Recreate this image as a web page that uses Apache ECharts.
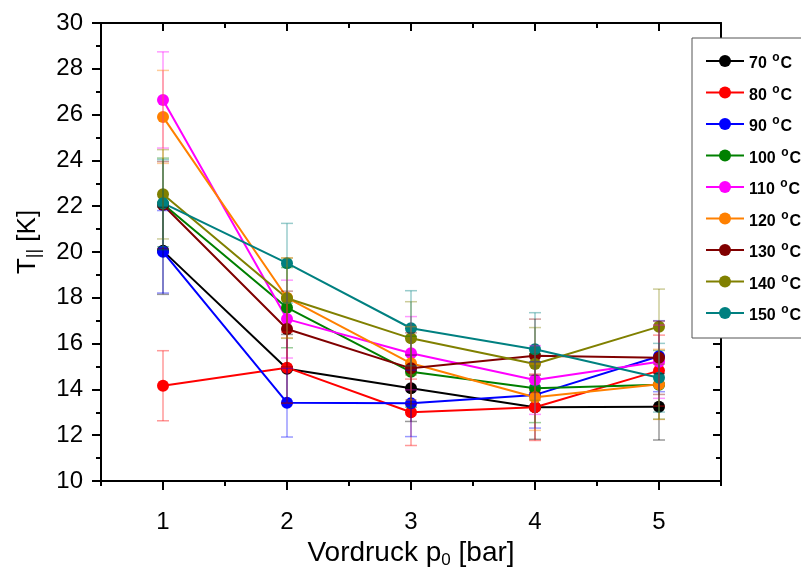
<!DOCTYPE html>
<html>
<head>
<meta charset="utf-8">
<script src="https://cdn.jsdelivr.net/npm/echarts@6/dist/echarts.min.js"></script>
<style>
html,body{margin:0;padding:0;background:#fff;}
#chart{width:801px;height:575px;}
</style>
</head>
<body>
<div id="chart"></div>
<script>
// ---- data ----
var pressures = [1, 2, 3, 4, 5];
var seriesNames = ['70 °C', '80 °C', '90 °C', '100 °C', '110 °C', '120 °C', '130 °C', '140 °C', '150 °C'];
var t70  = [20.05, 14.90, 14.05, 13.22, 13.24];
var t80  = [14.16, 14.95, 13.00, 13.22, 14.82];
var t90  = [20.01, 13.42, 13.39, 13.76, 15.45];
var t100 = [22.10, 17.57, 14.77, 14.05, 14.20];
var t110 = [26.64, 17.07, 15.58, 14.41, 15.21];
var t120 = [25.90, 18.00, 15.14, 13.66, 14.22];
var t130 = [22.05, 16.64, 14.92, 15.47, 15.38];
var t140 = [22.52, 17.98, 16.23, 15.11, 16.74];
var t150 = [22.13, 19.51, 16.67, 15.75, 14.51];
var e70  = [1.90, 1.50, 1.45, 1.40, 1.45];
var e80  = [1.53, 1.55, 1.45, 1.45, 1.55];
var e90  = [1.80, 1.50, 1.45, 1.45, 1.55];
var e100 = [2.00, 1.75, 1.55, 1.50, 1.50];
var e110 = [2.10, 1.70, 1.60, 1.50, 1.60];
var e120 = [2.03, 1.75, 1.60, 1.45, 1.53];
var e130 = [1.90, 1.65, 1.55, 1.60, 1.60];
var e140 = [1.95, 1.75, 1.60, 1.59, 1.64];
var e150 = [1.90, 1.74, 1.64, 1.60, 1.50];
var yTicks = [10, 12, 14, 16, 18, 20, 22, 24, 26, 28, 30];
var xTicks = [1, 2, 3, 4, 5];
var xMinorTicks = [0.5, 1.5, 2.5, 3.5, 4.5, 5.5];

var values = [t70, t80, t90, t100, t110, t120, t130, t140, t150];
var errors = [e70, e80, e90, e100, e110, e120, e130, e140, e150];
var colors = ['#000000', '#ff0000', '#0000ff', '#008000', '#ff00ff', '#ff8000', '#800000', '#808000', '#008080'];

var FONT = 'Liberation Sans, Arial, sans-serif';

var series = [];
values.forEach(function (vals, i) {
  var col = colors[i];
  series.push({
    name: seriesNames[i],
    type: 'line',
    data: pressures.map(function (p, j) { return [p, vals[j]]; }),
    symbol: 'circle',
    symbolSize: 12,
    itemStyle: { color: col },
    lineStyle: { color: col, width: 2 },
    z: 3,
    animation: false
  });
});
values.forEach(function (vals, i) {
  var col = colors[i];
  var errs = errors[i];
  series.push({
    name: seriesNames[i],
    type: 'custom',
    data: pressures.map(function (p, j) { return [p, vals[j] - errs[j], vals[j] + errs[j]]; }),
    renderItem: function (params, api) {
      var x = api.value(0);
      var lo = api.coord([x, api.value(1)]);
      var hi = api.coord([x, api.value(2)]);
      var hw = 6;
      var style = { stroke: col, lineWidth: 1.5, opacity: 0.4 };
      return {
        type: 'group',
        children: [
          { type: 'line', shape: { x1: lo[0], y1: lo[1], x2: hi[0], y2: hi[1] }, style: style },
          { type: 'line', shape: { x1: lo[0] - hw, y1: lo[1], x2: lo[0] + hw, y2: lo[1] }, style: style },
          { type: 'line', shape: { x1: hi[0] - hw, y1: hi[1], x2: hi[0] + hw, y2: hi[1] }, style: style }
        ]
      };
    },
    z: 4,
    silent: true,
    animation: false
  });
});

var axisLineStyle = { show: true, lineStyle: { color: '#000', width: 2 } };

var option = {
  animation: false,
  backgroundColor: '#fff',
  grid: { left: 101, right: 80, top: 23, bottom: 94, containLabel: false },
  xAxis: [
    {
      type: 'value', min: 0.5, max: 5.5, position: 'bottom',
      axisLine: axisLineStyle,
      axisTick: { show: true, customValues: xTicks, length: 9, lineStyle: { color: '#000', width: 2 } },
      axisLabel: { show: true, customValues: xTicks, color: '#000', fontFamily: FONT, fontSize: 24, margin: 29 },
      splitLine: { show: false },
      name: 'Vordruck p{s|0} [bar]',
      nameLocation: 'middle', nameGap: 55,
      nameTextStyle: {
        color: '#000', fontFamily: FONT, fontSize: 28,
        rich: { s: { fontFamily: FONT, fontSize: 17, color: '#000', verticalAlign: 'bottom', padding: [15, 0, 0, 0] } }
      }
    },
    {
      type: 'value', min: 0.5, max: 5.5, position: 'bottom',
      axisLine: { show: false },
      axisTick: { show: true, customValues: xMinorTicks, length: 5, lineStyle: { color: '#000', width: 2 } },
      axisLabel: { show: false },
      splitLine: { show: false }
    },
    {
      type: 'value', min: 0.5, max: 5.5, position: 'top',
      axisLine: axisLineStyle,
      axisTick: { show: true, inside: true, customValues: xTicks, length: 8, lineStyle: { color: '#000', width: 2 } },
      axisLabel: { show: false },
      splitLine: { show: false }
    },
    {
      type: 'value', min: 0.5, max: 5.5, position: 'top',
      axisLine: { show: false },
      axisTick: { show: true, inside: true, customValues: xMinorTicks, length: 5, lineStyle: { color: '#000', width: 2 } },
      axisLabel: { show: false },
      splitLine: { show: false }
    }
  ],
  yAxis: [
    {
      type: 'value', min: 10, max: 30, interval: 2, position: 'left',
      axisLine: axisLineStyle,
      axisTick: { show: true, length: 9, lineStyle: { color: '#000', width: 2 } },
      minorTick: { show: true, splitNumber: 2, length: 5, lineStyle: { color: '#000', width: 2 } },
      axisLabel: { color: '#000', fontFamily: FONT, fontSize: 24, margin: 18 },
      splitLine: { show: false },
      name: 'T{s|||} [K]',
      nameLocation: 'middle', nameGap: 58, nameRotate: 90,
      nameTextStyle: {
        color: '#000', fontFamily: FONT, fontSize: 26, padding: [0, 0, 0, 20],
        rich: { s: { fontFamily: FONT, fontSize: 18, color: '#000', verticalAlign: 'bottom', padding: [12, 0, 0, 0] } }
      }
    },
    {
      type: 'value', min: 10, max: 30, interval: 2, position: 'right',
      axisLine: axisLineStyle,
      axisTick: { show: true, inside: true, length: 8, lineStyle: { color: '#000', width: 2 } },
      minorTick: { show: true, splitNumber: 2, length: 5, lineStyle: { color: '#000', width: 2 } },
      axisLabel: { show: false },
      splitLine: { show: false }
    }
  ],
  legend: {
    orient: 'vertical',
    left: 692, top: 38,
    padding: [14, 12, 14, 13],
    itemWidth: 38, itemHeight: 15, itemGap: 11.5,
    backgroundColor: '#fff',
    borderColor: '#555', borderWidth: 1,
    data: seriesNames,
    formatter: function (name) {
      return '{n|' + name.replace(' °C', ' ') + '}{s|o}{n|C}';
    },
    textStyle: {
      color: '#000', fontFamily: FONT, fontWeight: 'bold', fontSize: 16,
      rich: {
        n: { fontFamily: FONT, fontWeight: 'bold', fontSize: 16, color: '#000', verticalAlign: 'bottom', height: 20 },
        s: { fontFamily: FONT, fontWeight: 'bold', fontSize: 12, color: '#000', verticalAlign: 'top', height: 20, padding: [0, 1, 6, 1] }
      }
    }
  },
  series: series
};

var chart = echarts.init(document.getElementById('chart'), null, { renderer: 'canvas' });
chart.setOption(option);
</script>
</body>
</html>
